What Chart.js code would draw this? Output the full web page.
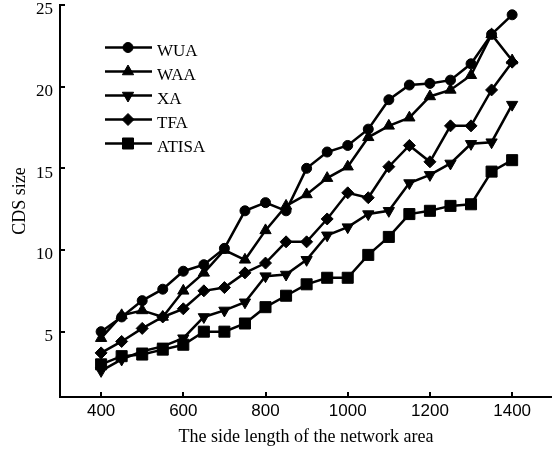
<!DOCTYPE html>
<html>
<head>
<meta charset="utf-8">
<script src="https://cdn.jsdelivr.net/npm/chart.js@4/dist/chart.umd.min.js"></script>
<style>
  html, body { margin: 0; padding: 0; background: #fff; }
  canvas { display: block; }
</style>
</head>
<body>
<canvas id="cds" width="552" height="453"></canvas>
<script>
const sideLengths = [400, 450, 500, 550, 600, 650, 700, 750, 800, 850, 900, 950, 1000, 1050, 1100, 1150, 1200, 1250, 1300, 1350, 1400];
const wua   = [5.0, 5.9, 6.9, 7.6, 8.7, 9.1, 10.1, 12.4, 12.9, 12.4, 15.0, 16.0, 16.4, 17.4, 19.2, 20.1, 20.2, 20.4, 21.4, 23.2, 24.4];
const waa   = [4.6, 6.0, 6.3, 5.9, 7.5, 8.6, 10.0, 9.4, 11.2, 12.7, 13.4, 14.4, 15.1, 16.9, 17.6, 18.1, 19.4, 19.8, 20.7, 23.2, 21.6];
const xa    = [2.6, 3.3, 3.8, 4.1, 4.6, 5.9, 6.3, 6.8, 8.4, 8.5, 9.4, 10.9, 11.4, 12.2, 12.4, 14.1, 14.6, 15.3, 16.5, 16.6, 18.9];
const tfa   = [3.7, 4.4, 5.2, 5.9, 6.4, 7.5, 7.7, 8.6, 9.2, 10.5, 10.5, 11.9, 13.5, 13.2, 15.1, 16.4, 15.4, 17.6, 17.6, 19.8, 21.5];
const atisa = [3.0, 3.5, 3.6, 3.9, 4.2, 5.0, 5.0, 5.5, 6.5, 7.2, 7.9, 8.3, 8.3, 9.7, 10.8, 12.2, 12.4, 12.7, 12.8, 14.8, 15.5];
const xTicks = [400, 600, 800, 1000, 1200, 1400];
const yTicks = [5, 10, 15, 20, 25];

const serif = '"Liberation Serif", "Times New Roman", serif';

function series(label, values, style, radius, rotation) {
  return {
    label: label,
    data: values.map((v, i) => ({ x: sideLengths[i], y: v })),
    borderColor: '#000',
    backgroundColor: '#000',
    borderWidth: 2.5,
    pointStyle: style,
    pointRadius: radius,
    pointRotation: rotation || 0,
    pointBorderWidth: 1,
    tension: 0,
    clip: false
  };
}

// inward tick marks + legend drawn inside the plot
const extras = {
  id: 'extras',
  afterDraw(chart) {
    const ctx = chart.ctx;
    const xs = chart.scales.x, ys = chart.scales.y;
    ctx.save();
    ctx.strokeStyle = '#000';
    ctx.lineWidth = 2;
    ctx.beginPath();
    xTicks.forEach(v => {
      const px = Math.round(xs.getPixelForValue(v));
      ctx.moveTo(px, ys.bottom);
      ctx.lineTo(px, ys.bottom - 5);
    });
    yTicks.forEach(v => {
      const py = Math.round(ys.getPixelForValue(v));
      ctx.moveTo(xs.left, py);
      ctx.lineTo(xs.left + 5, py);
    });
    ctx.stroke();

    chart.data.datasets.forEach((ds, i) => {
      const y = 47.5 + i * 24;
      ctx.strokeStyle = '#000';
      ctx.fillStyle = '#000';
      ctx.lineWidth = 2.5;
      ctx.beginPath();
      ctx.moveTo(105, y);
      ctx.lineTo(152, y);
      ctx.stroke();
      ctx.lineWidth = 1;
      Chart.helpers.drawPoint(ctx, {
        pointStyle: ds.pointStyle, radius: ds.pointRadius,
        rotation: ds.pointRotation, borderWidth: 1
      }, 128, y);
      ctx.font = '17px ' + serif;
      ctx.textBaseline = 'middle';
      ctx.fillText(ds.label, 157, y + 4);
    });
    ctx.restore();
  }
};

new Chart(document.getElementById('cds'), {
  type: 'line',
  data: {
    datasets: [
      series('WUA', wua, 'circle', 5),
      series('WAA', waa, 'triangle', 6.5),
      series('XA', xa, 'triangle', 6.5, 180),
      series('TFA', tfa, 'rectRot', 6),
      series('ATISA', atisa, 'rect', 7.8)
    ]
  },
  options: {
    responsive: false,
    animation: false,
    layout: { autoPadding: false, padding: { top: 5, right: 0, left: 0, bottom: 0 } },
    plugins: { legend: { display: false }, tooltip: { enabled: false } },
    scales: {
      x: {
        type: 'linear',
        min: 300,
        max: 1497,
        afterBuildTicks: s => { s.ticks = xTicks.map(v => ({ value: v })); },
        afterFit: s => { s.height = 56; s.paddingLeft = 0; s.paddingRight = 0; },
        grid: { drawOnChartArea: false, drawTicks: false },
        border: { display: true, color: '#000', width: 2 },
        ticks: { color: '#000', font: { family: 'Liberation Sans', size: 17 }, padding: 4, maxRotation: 0,
                 callback: v => String(v) },
        title: { display: true, text: 'The side length of the network area', color: '#000',
                 font: { family: serif, size: 18 }, padding: { top: 0, bottom: 5 } }
      },
      y: {
        min: 1,
        max: 25,
        afterBuildTicks: s => { s.ticks = yTicks.map(v => ({ value: v })); },
        afterFit: s => { s.width = 60; s.paddingTop = 0; s.paddingBottom = 0; },
        grid: { drawOnChartArea: false, drawTicks: false },
        border: { display: true, color: '#000', width: 2 },
        ticks: { color: '#000', font: { family: serif, size: 17 }, padding: 7, labelOffset: 5,
                 callback: v => String(v) },
        title: { display: true, text: 'CDS size', color: '#000',
                 font: { family: serif, size: 18 }, padding: { top: 9, bottom: 0 } }
      }
    }
  },
  plugins: [extras]
});
</script>
</body>
</html>
